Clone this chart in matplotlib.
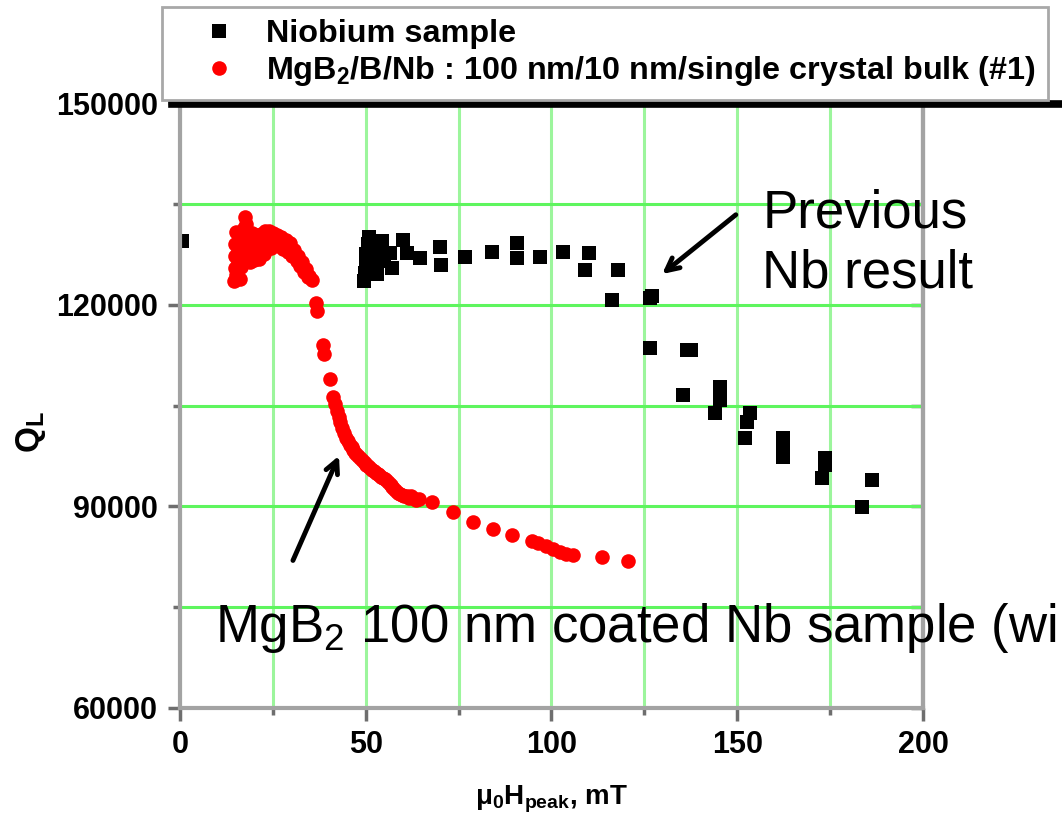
import matplotlib.pyplot as plt
from matplotlib.lines import Line2D
from matplotlib.ticker import MultipleLocator

plt.rcParams['font.family'] = ['Liberation Sans', 'DejaVu Sans']
plt.rcParams['font.weight'] = 'bold'
plt.rcParams['mathtext.default'] = 'regular'

# Niobium sample: peak field (mT) vs loaded Q
nb_h = [0.5, 49.5, 49.7, 50.0, 50.2, 50.5, 51.0, 51.5, 52.0, 52.5, 53.0, 53.5, 54.0,
        54.5, 55.0, 56.5, 57.0, 60.0, 61.0, 64.6, 70.0, 70.2, 76.7, 84.0, 90.7, 90.7,
        96.9, 103.0, 110.0, 109.0, 118.0, 116.4, 126.5, 127.0, 126.5, 136.5, 137.5,
        135.4, 145.4, 145.4, 144.0, 153.4, 152.6, 152.0, 162.3, 162.3, 162.3, 173.6,
        173.6, 172.8, 186.3, 183.6]
nb_q = [129500, 123500, 124700, 126000, 127500, 129000, 130000, 128500, 127000, 125500,
        124500, 128000, 126500, 129500, 127000, 127700, 125400, 129600, 127700, 127000,
        128600, 125900, 127100, 127800, 129200, 126900, 127100, 127800, 127700, 125200,
        125200, 120700, 121000, 121300, 113600, 113300, 113200, 106600, 107800, 105800,
        103900, 103900, 102500, 100200, 100200, 99200, 97400, 97200, 96200, 94200,
        93900, 89900]

# MgB2/B/Nb coated sample
mgb2_h = [14.6, 14.7, 14.7, 14.8, 15.0, 15.2, 15.5, 15.7, 16.0, 16.2, 16.5, 16.8, 17.0,
          17.2, 17.5, 17.8, 18.2, 18.5, 18.8, 19.3, 19.6, 20.0, 20.5, 20.9, 21.3, 21.8,
          22.2, 22.6, 23.0, 23.5, 24.0, 24.4, 25.0, 25.5, 26.0, 26.6, 27.2, 27.8, 28.4,
          29.0, 29.6, 30.2, 30.8, 31.4, 31.8, 32.4, 32.8, 33.4, 33.8, 34.4, 34.8, 35.4,
          16.0, 17.5, 18.0, 19.0, 20.0, 21.0, 22.0, 23.0, 25.0, 27.0, 29.0, 17.2, 18.3,
          36.7, 37.0, 38.6, 38.8, 40.3,
          41.2, 41.7, 42.2, 42.7, 43.2, 43.7, 44.2, 44.7, 45.2, 45.7, 46.2, 46.7, 47.2,
          47.7, 48.2, 48.7, 49.2, 49.7, 50.2, 50.7, 51.2, 51.7, 52.2, 52.7, 53.2, 53.7,
          54.2, 54.7, 55.2, 55.7, 56.2, 56.7, 57.2, 57.7, 58.2, 58.7, 59.2, 59.8, 60.4,
          61.0, 61.6, 62.2, 62.8, 63.5, 64.2, 67.8,
          73.5, 78.9, 84.3, 89.4, 94.8, 96.5, 98.5, 100.5, 102.3, 104.0, 105.8, 113.6,
          120.6]
mgb2_q = [123600, 125400, 127200, 129000, 130800, 124400, 126400, 128300, 130200, 123800,
          125600, 127600, 129600, 131400, 133100, 132000, 130300, 128000, 126300, 130600,
          128600, 126600, 130400, 128400, 126800, 130500, 128700, 127500, 131000, 129200,
          130900, 128400, 130600, 128900, 130400, 128700, 130100, 128300, 129700, 127900,
          129200, 127300, 128200, 126500, 127300, 125700, 126300, 124800, 125300, 124100,
          124300, 123700,
          127000, 129000, 127500, 128000, 129000, 129500, 129800, 128300, 129700, 129200,
          128600, 126500, 126800,
          120200, 119100, 114000, 112600, 108900,
          106300, 105200, 104200, 103300, 102500, 101700, 100900, 100200, 99700, 99200,
          98800, 98400, 98000, 97700, 97400, 97100, 96800, 96500, 96200, 96000, 95700,
          95400, 95200, 95000, 94800, 94600, 94400, 94200, 94000, 93800, 93500, 93200,
          92900, 92600, 92300, 92000, 91900, 91700, 91600, 91500, 91300, 91500, 91200,
          91000, 91100, 90700,
          89200, 87600, 86600, 85800, 84900, 84600, 84100, 83600, 83200, 82900, 82700,
          82500, 81900]

fig = plt.figure(figsize=(10.62, 8.18), dpi=100)
ax = fig.add_axes([0.1695, 0.1345, 0.6996, 0.7395])

ax.plot(nb_h, nb_q, 's', color='black', ms=9.5, mew=0, label='Niobium sample')
ax.plot(mgb2_h, mgb2_q, 'o', color='#ff0000', ms=10.5, mew=0,
        label='MgB$_2$/B/Nb : 100 nm/10 nm/single crystal bulk (#1)')

ax.set_xlim(0, 200)
ax.set_ylim(60000, 150000)
ax.xaxis.set_major_locator(MultipleLocator(50))
ax.xaxis.set_minor_locator(MultipleLocator(25))
ax.yaxis.set_major_locator(MultipleLocator(30000))
ax.yaxis.set_minor_locator(MultipleLocator(15000))

ax.set_axisbelow(True)
ax.xaxis.grid(True, which='both', color='#9cf59c', lw=2.2)
ax.yaxis.grid(True, which='both', color='#5ef55e', lw=2.2)

for side in ['left', 'bottom', 'right']:
    ax.spines[side].set_color('#a3a3a3')
    ax.spines[side].set_linewidth(3)
ax.spines['top'].set_visible(False)

ax.tick_params(which='major', direction='out', length=9, width=2.5, color='#6e6e6e',
               labelsize=22, pad=7)
ax.tick_params(which='minor', direction='out', length=5, width=2.5, color='#6e6e6e')

# inward ticks on the right-hand frame
sec = ax.secondary_yaxis('right')
sec.yaxis.set_major_locator(MultipleLocator(30000))
sec.yaxis.set_minor_locator(MultipleLocator(15000))
sec.tick_params(which='both', direction='in', length=9, width=2.5, color='#6e6e6e',
                labelright=False)
sec.spines['right'].set_color('#a3a3a3')
sec.spines['right'].set_linewidth(3)

ax.set_xlabel('μ$_0$H$_{peak}$, mT', fontsize=20, fontweight='bold')
ax.xaxis.set_label_coords(0.5, -0.125)
ax.set_ylabel('Q$_L$', fontsize=24, fontweight='bold')
ax.yaxis.set_label_coords(-0.178, 0.456)

# heavy rule under the legend
fig.add_artist(Line2D([172 / 1062, 1.0], [1 - 104 / 818] * 2, color='black', lw=5.5,
                      transform=fig.transFigure))

leg = fig.legend(loc='upper left', bbox_to_anchor=(162 / 1062, 1 - 7 / 818),
                 fontsize=23.3, fancybox=False, edgecolor='#a8a8a8', framealpha=1,
                 handlelength=2.8, handletextpad=0.05, labelspacing=0.16, borderpad=0.37,
                 borderaxespad=0)
leg.get_frame().set_linewidth(2)

ax.annotate('', xy=(129.2, 124300), xytext=(150.2, 133640),
            arrowprops=dict(arrowstyle='->, head_length=0.9, head_width=0.45',
                            color='black', lw=3.5), annotation_clip=False)
ax.text(156.7, 122600, 'Previous\nNb result', fontsize=38, fontweight='normal',
        va='baseline', ha='left', linespacing=1.25, clip_on=False)

ax.annotate('', xy=(43.1, 97900), xytext=(30.1, 81570),
            arrowprops=dict(arrowstyle='->, head_length=0.9, head_width=0.45',
                            color='black', lw=3.5), annotation_clip=False)
ax.text(9.4, 69800, 'MgB$_2$ 100 nm coated Nb sample (wi', fontsize=38,
        fontweight='normal', va='baseline', ha='left', clip_on=False)

fig.savefig('out.png', dpi=100)
